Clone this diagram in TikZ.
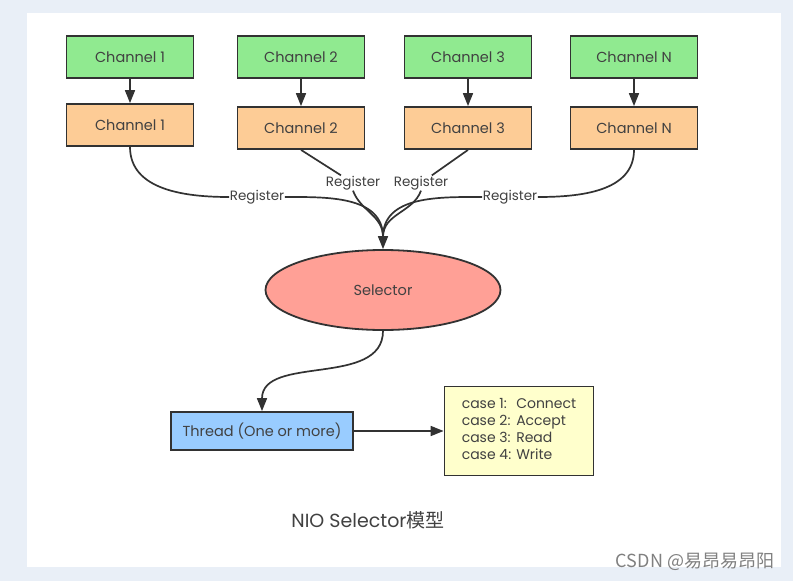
\documentclass[tikz,border=0pt]{standalone}
\usepackage{fontspec}
\setmainfont{Poppins}
\newfontfamily\cjkfont{Noto Sans CJK SC}
\usetikzlibrary{arrows.meta,shapes.geometric}

\definecolor{pagebg}{RGB}{233,239,247}
\definecolor{chgreen}{RGB}{144,234,144}
\definecolor{chorange}{RGB}{253,204,150}
\definecolor{selred}{RGB}{255,160,150}
\definecolor{thrblue}{RGB}{153,204,255}
\definecolor{caseyellow}{RGB}{255,255,204}
\definecolor{boxline}{RGB}{50,50,50}
\definecolor{textgray}{RGB}{65,65,65}

\newcommand{\chanfont}{\fontsize{14.5}{16}\selectfont}
\newcommand{\regfont}{\fontsize{13.5}{15}\selectfont}
\newcommand{\capfont}{\fontsize{19}{22}\selectfont}

\begin{document}
\begin{tikzpicture}[x=1pt,y=-1pt,
  chan/.style={draw=boxline,line width=1.8pt,minimum width=127pt,minimum height=42pt,font=\chanfont,text=textgray},
  src/.style={chan,fill=chgreen},
  dst/.style={chan,fill=chorange},
  reg/.style={fill=white,inner sep=0.5pt,font=\regfont,text=textgray},
  link/.style={line width=1.7pt,draw=boxline},
  tip/.style={-{Triangle[length=13pt,width=10pt]}}]

\useasboundingbox (0,0) rectangle (793,581);
\fill[pagebg] (0,0) rectangle (793,581);
\fill[white] (27,13) rectangle (781,567);

% channels
\node[src] (g1) at (130,57) {Channel 1};
\node[src] (g2) at (301,57) {Channel 2};
\node[src] (g3) at (468,57) {Channel 3};
\node[src] (gN) at (634,57) {Channel N};

\node[dst] (o1) at (130,125) {Channel 1};
\node[dst] (o2) at (301,128) {Channel 2};
\node[dst] (o3) at (468,128) {Channel 3};
\node[dst] (oN) at (634,128) {Channel N};

\draw[link,tip] (g1) -- (o1);
\draw[link,tip] (g2) -- (o2);
\draw[link,tip] (g3) -- (o3);
\draw[link,tip] (gN) -- (oN);

% register
\node[reg] (r1) at (257,197) {Register};
\node[reg] (r2) at (353,183) {Register};
\node[reg] (r3) at (421,183) {Register};
\node[reg] (rN) at (510,197) {Register};
\coordinate (merge) at (383,237);

\node[ellipse,draw=boxline,line width=1.8pt,fill=selred,minimum width=235pt,minimum height=80pt,font=\chanfont,text=textgray] (sel) at (383,290) {Selector};

\draw[link] (o1.south) to[out=-90,in=180] (r1.west);
\draw[link] (r1.east) to[out=0,in=90] (merge);
\draw[link] (o2.south) -- (r2);
\draw[link] (r2.south) to[out=-70,in=90] (merge);
\draw[link] (o3.south) -- (r3);
\draw[link] (r3.south) to[out=-110,in=90] (merge);
\draw[link] (oN.south) to[out=-90,in=0] (rN.east);
\draw[link] (rN.west) to[out=180,in=90] (merge);
\draw[link,tip] (merge) -- (sel.north);

% thread
\node[draw=boxline,line width=1.8pt,fill=thrblue,minimum width=182pt,minimum height=38pt,font=\chanfont,text=textgray] (thr) at (262,431) {Thread (One or more)};
\node[draw=boxline,line width=1.8pt,fill=caseyellow,minimum width=149pt,minimum height=89pt,font=\fontsize{14}{17}\selectfont,text=textgray] (case) at (519,431)
  {\begin{tabular}{@{}l@{\hspace{5pt}}l@{}}case 1: & Connect\\ case 2: & Accept\\ case 3: & Read\\ case 4: & Write\end{tabular}};

\draw[link,tip] (sel.south) to[out=-90,in=90] (thr.north);
\draw[link,tip] (thr) -- (case);

\node[font=\capfont,text=textgray] (cap) at (368,520) {NIO Selector{\cjkfont 模型}};
\node[font=\cjkfont\fontsize{18}{20}\selectfont,text=gray] (wm) at (695,562) {CSDN @易昂易昂阳};

\end{tikzpicture}
\end{document}
